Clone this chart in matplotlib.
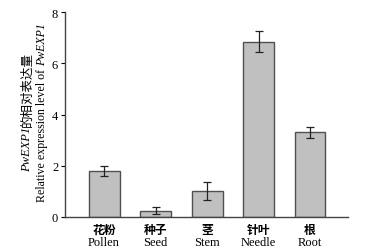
import matplotlib
matplotlib.use("Agg")
import matplotlib.pyplot as plt

categories_cn = ["花粉", "种子", "茎", "针叶", "根"]
categories_en = ["Pollen", "Seed", "Stem", "Needle", "Root"]
values = [1.8, 0.25, 1.0, 6.85, 3.3]
errors = [0.2, 0.14, 0.35, 0.42, 0.23]
yticks = [0, 2, 4, 6, 8]

serif = ["Liberation Serif", "Noto Sans CJK SC"]
cjk = ["Noto Sans CJK SC", "Liberation Serif"]
plt.rcParams['font.family'] = serif

fig = plt.figure(figsize=(3.68, 2.51), dpi=100)
ax = fig.add_axes([0.177, 0.1315, 0.769, 0.8165])

x = list(range(len(values)))
ax.bar(x, values, width=0.6, color="#c0c0c0", edgecolor="#505050", linewidth=1.0,
       yerr=errors, capsize=3, error_kw=dict(ecolor="#222222", elinewidth=0.9, capthick=0.9))

ax.set_xlim(-0.757, 4.74)
ax.set_ylim(0, 8)
ax.set_yticks(yticks)
ax.set_yticklabels([str(v) for v in yticks], fontsize=9)
ax.set_xticks(x)
ax.set_xticklabels([""] * len(x))
ax.tick_params(axis='x', length=0)
ax.tick_params(axis='y', direction='out', length=3, width=0.8, pad=2)
for s in ["top", "right"]:
    ax.spines[s].set_visible(False)
for s in ["left", "bottom"]:
    ax.spines[s].set_linewidth(1.0)
    ax.spines[s].set_color("#444444")

trans = ax.get_xaxis_transform()
for i in x:
    ax.text(i, -0.03, categories_cn[i], transform=trans, ha='center', va='top',
            fontsize=8.5, family=cjk, fontweight='bold')
    ax.text(i, -0.095, categories_en[i], transform=trans, ha='center', va='top',
            fontsize=9, family=serif)

renderer = fig.canvas.get_renderer()
H = fig.bbox.height


def stacked(xpix, ybottom_pix, parts, size):
    """parts: list of (text, family, style); place rotated pieces bottom-to-top."""
    y = ybottom_pix
    for txt, fam, sty in parts:
        t = fig.text(xpix / 368, 1 - y / 251, txt, rotation=90, ha='center', va='bottom',
                     fontsize=size, family=fam, style=sty)
        bb = t.get_window_extent(renderer)
        y -= bb.height * 251 / H


stacked(27, 172, [("PwEXP1", serif, 'italic'), ("的相对表达量", cjk, 'normal')], 9)
stacked(42, 202, [("Relative expression level of ", serif, 'normal'),
                  ("PwEXP1", serif, 'italic')], 8.6)

fig.savefig("out.png", dpi=100)
